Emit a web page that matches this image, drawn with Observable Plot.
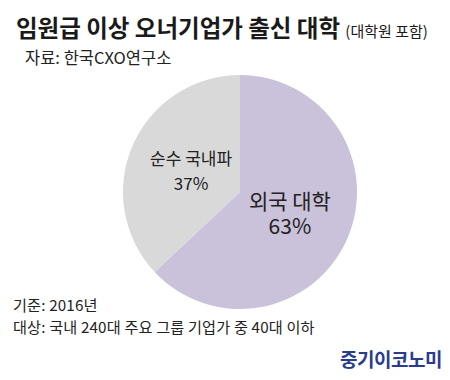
<!DOCTYPE html>
<html>
<head>
<meta charset="utf-8">
<script src="https://cdn.jsdelivr.net/npm/d3@7"></script>
<script src="https://cdn.jsdelivr.net/npm/@observablehq/plot@0.6"></script>
<style>
  html, body { margin: 0; padding: 0; background: #fff; }
  #wrap { position: relative; width: 450px; height: 380px; overflow: hidden; font-family: "Noto Sans CJK KR", "Noto Sans", sans-serif; color: #222; }
  .abs { position: absolute; white-space: nowrap; line-height: 1; }
  #title { left: 16px; top: 16px; font-size: 23.5px; font-weight: 700; letter-spacing: 0; color: #1a1a1a; }
  #title small { font-size: 15px; font-weight: 400; }
  #sub { left: 25px; top: 49px; font-size: 16.5px; color: #222; }
  .foot { left: 13px; font-size: 15.2px; color: #222; letter-spacing: 0.15px; }
  #foot1 { top: 297px; }
  #foot2 { top: 319px; }
  #logo { right: 8px; top: 349px; font-size: 19px; font-weight: 700; color: #2a3d8c; letter-spacing: -0.5px; }
  #chart { position: absolute; left: 0; top: 0; }
</style>
</head>
<body>
<div id="wrap">
  <div id="chart"></div>
  <div id="title" class="abs">임원급 이상 오너기업가 출신 대학 <small>(대학원 포함)</small></div>
  <div id="sub" class="abs">자료: 한국CXO연구소</div>
  <div id="foot1" class="abs foot">기준: 2016년</div>
  <div id="foot2" class="abs foot">대상: 국내 240대 주요 그룹 기업가 중 40대 이하</div>
  <div id="logo" class="abs">중기이코노미</div>
</div>
<script>
const categories = ["외국 대학", "순수 국내파"];
const shares = [63, 37];
const colors = ["#cac1da", "#d9d9d9"];
const labelSizes = [21, 17];

const data = categories.map((c, i) => ({category: c, value: shares[i], color: colors[i], size: labelSizes[i]}));
const arcs = d3.pie().sort(null).value(d => d.value)(data);
const labelRadius = 0.46;
const labels = arcs.map(a => {
  const mid = (a.startAngle + a.endAngle) / 2;
  return {
    x: labelRadius * Math.sin(mid),
    y: labelRadius * Math.cos(mid),
    name: a.data.category,
    pct: a.data.value + "%",
    size: a.data.size
  };
});

function pieMark(index, scales, values, dimensions, context) {
  const cx = scales.x(0), cy = scales.y(0);
  const r = scales.x(1) - scales.x(0);
  const g = d3.create("svg:g");
  const arcGen = d3.arc().innerRadius(0).outerRadius(r);
  g.selectAll("path").data(arcs).join("path")
    .attr("transform", `translate(${cx},${cy})`)
    .attr("d", arcGen)
    .attr("fill", d => d.data.color);
  return g.node();
}

const plot = Plot.plot({
  width: 450,
  height: 380,
  marginLeft: 123,
  marginRight: 93,
  marginTop: 75,
  marginBottom: 71,
  x: {domain: [-1, 1], axis: null},
  y: {domain: [-1, 1], axis: null},
  style: {fontFamily: '"Noto Sans CJK KR", sans-serif', background: "transparent"},
  marks: [
    pieMark,
    Plot.text(labels, {x: "x", y: "y", text: "name", fontSize: "size", fill: "#222", dy: -12}),
    Plot.text(labels, {x: "x", y: "y", text: "pct", fontSize: "size", fill: "#222", dy: 13})
  ]
});
document.getElementById("chart").appendChild(plot);
</script>
</body>
</html>
